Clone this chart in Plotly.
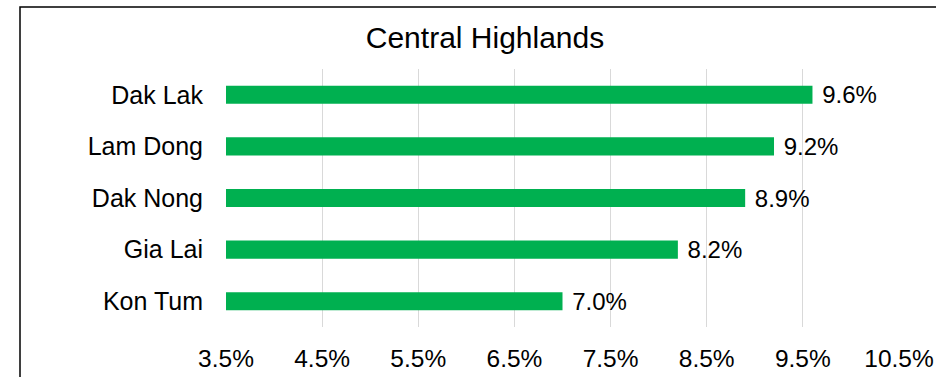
import plotly.graph_objects as go

provinces = ["Dak Lak", "Lam Dong", "Dak Nong", "Gia Lai", "Kon Tum"]
values = [9.6, 9.2, 8.9, 8.2, 7.0]
tick_vals = [3.5, 4.5, 5.5, 6.5, 7.5, 8.5, 9.5, 10.5]
tick_text = ["3.5%", "4.5%", "5.5%", "6.5%", "7.5%", "8.5%", "9.5%", "10.5%"]
labels = [" %.1f%%" % v for v in values]

W, H = 936, 377
L, R, T, B = 226, 37, 69, 50
pw, ph = W - L - R, H - T - B

fig = go.Figure(go.Bar(
    x=values, y=provinces, orientation="h",
    marker=dict(color="#00B050", line=dict(width=0)),
    width=0.35,
    text=labels, textposition="outside", cliponaxis=False, constraintext="none",
    textfont=dict(family="Liberation Sans, Arial, sans-serif", size=24, color="#000000"),
))

fig.update_layout(
    width=W, height=H,
    margin=dict(l=L, r=R, t=T, b=B, autoexpand=False),
    paper_bgcolor="white", plot_bgcolor="white",
    showlegend=False,
    font=dict(family="Liberation Sans, Arial, sans-serif", size=24, color="#000000"),
    title=dict(text="Central Highlands", x=485 / W, xref="container", xanchor="center",
               y=1 - 37 / H, yref="container", yanchor="middle",
               font=dict(size=30, color="#000000")),
    xaxis=dict(range=[3.5, 10.5], tickvals=tick_vals, ticktext=tick_text,
               showgrid=True, gridcolor="#d9d9d9", gridwidth=1,
               zeroline=False, showline=False, ticks="", ticklabelstandoff=14,
               tickfont=dict(size=24.5)),
    yaxis=dict(categoryorder="array", categoryarray=provinces, autorange="reversed",
               showgrid=False, zeroline=False, showline=False, ticks="",
               ticklabelstandoff=22, tickfont=dict(size=25)),
    shapes=[dict(type="rect", xref="paper", yref="paper",
                 x0=(20 - L) / pw, x1=1.3, y0=-0.5, y1=(H - B - 7) / ph,
                 line=dict(color="#000000", width=1.5), fillcolor="rgba(0,0,0,0)",
                 layer="below")],
)

fig.write_html("out.html", config={"displayModeBar": False},
               post_script="document.body.style.margin='0';document.body.style.overflow='hidden';")
